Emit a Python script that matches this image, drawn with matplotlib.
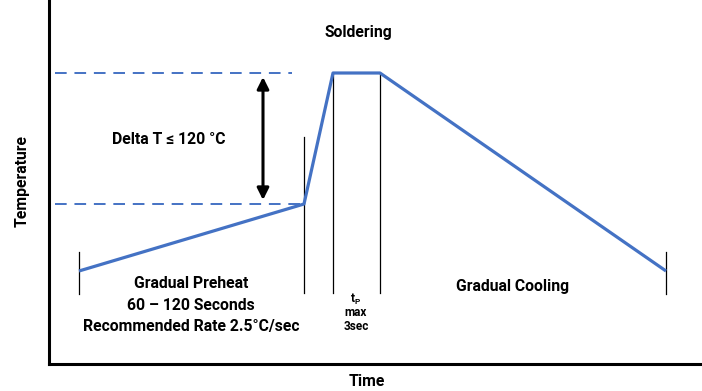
import matplotlib.pyplot as plt

# reflow profile (time, temperature) in arbitrary units
profile_time = [30, 255, 284, 331, 617]
profile_temp = [93, 160, 291, 291, 93]

# phase boundary markers: (time, bottom, top)
marker_time = [30, 255, 284, 331, 617]
marker_bottom = [70, 71, 71, 71, 70]
marker_top = [112, 227, 291, 291, 112]

# dashed reference levels
level_temp = [291, 160]
level_end = [243, 255]

arrow_time = 214

blue = "#4472C4"
plt.rcParams["font.family"] = ["Roboto", "DejaVu Sans"]
plt.rcParams["font.weight"] = "bold"

fig = plt.figure(figsize=(7.02, 3.91), dpi=100)
ax = fig.add_axes([49 / 702, 27 / 391, 1 - 49 / 702, 1 - 27 / 391])
ax.set_xlim(0, 653)
ax.set_ylim(0, 364)

for t, b, tp in zip(marker_time, marker_bottom, marker_top):
    ax.plot([t, t], [b, tp], color="black", lw=0.9, zorder=2)

for lv, end in zip(level_temp, level_end):
    ax.plot([6, end], [lv, lv], color=blue, lw=1.4, ls=(0, (6, 4)), zorder=1)

ax.plot(profile_time, profile_temp, color=blue, lw=2.3, zorder=3, solid_capstyle="butt")

ax.annotate("", xy=(arrow_time, level_temp[0] - 4), xytext=(arrow_time, level_temp[1] + 4),
            arrowprops=dict(arrowstyle="<|-|>,head_length=0.7,head_width=0.35", color="black",
                            lw=2.2, shrinkA=0, shrinkB=0))

kw = dict(ha="center", va="center", fontsize=11.3, fontweight="bold")
ax.text(309, 331, "Soldering", **kw)
ax.text(120, 224, "Delta T \u2264 120 \u00b0C", **kw)
ax.text(142, 80, "Gradual Preheat", **kw)
ax.text(142, 59, "60 \u2013 120 Seconds", **kw)
ax.text(142, 38, "Recommended Rate 2.5\u00b0C/sec", **kw)
ax.text(464, 77, "Gradual Cooling", **kw)
small = dict(ha="center", va="center", fontsize=8.5, fontweight="bold")
ax.text(307, 65, "t$_\\mathregular{P}$", **small)
ax.text(307, 51, "max", **small)
ax.text(307, 37, "3sec", **small)

fig.text(367 / 702, 9 / 391, "Time", ha="center", va="center", fontsize=11.3, fontweight="bold")
fig.text(22 / 702, 1 - 181 / 391, "Temperature", ha="center", va="center", rotation=90,
         fontsize=11.3, fontweight="bold")

ax.set_xticks([])
ax.set_yticks([])
for s in ["top", "right"]:
    ax.spines[s].set_visible(False)
for s in ["left", "bottom"]:
    ax.spines[s].set_linewidth(2.2)

fig.savefig("out.png", dpi=100)
